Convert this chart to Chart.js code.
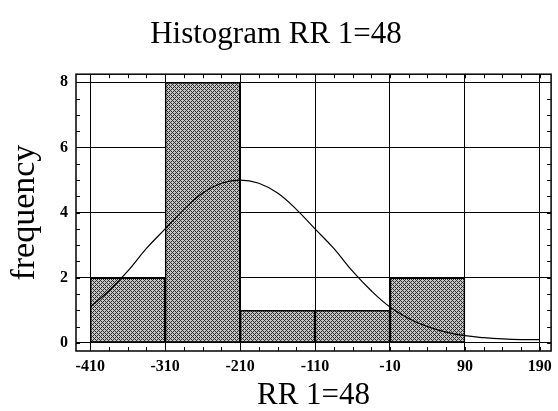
<!DOCTYPE html>
<html>
<head>
<meta charset="utf-8">
<script src="https://cdn.jsdelivr.net/npm/chart.js@4"></script>
<style>
  html, body { margin: 0; padding: 0; background: #fff; }
  #wrap { width: 558px; height: 411px; }
</style>
</head>
<body>
<div id="wrap"><canvas id="chart" width="558" height="411"></canvas></div>
<script>
// histogram bins (lower edge, 100 wide) and counts
const binStarts = [-410, -310, -210, -110, -10];
const binWidth = 100;
const counts = [2, 8, 1, 1, 2];

// fitted normal curve
const curveX = [-410, -385, -360, -335, -310, -285, -260, -235, -210, -185, -160, -135, -110,
                -85, -60, -35, -10, 15, 40, 65, 90, 115, 140, 165, 190];
const curveY = [1.1, 1.6, 2.2, 2.9, 3.5, 4.1, 4.6, 4.9, 5.0, 4.9, 4.6, 4.1, 3.5,
                2.9, 2.2, 1.6, 1.1, 0.75, 0.5, 0.33, 0.22, 0.16, 0.12, 0.1, 0.1];

const xTicks = [-410, -310, -210, -110, -10, 90, 190];
const yTicks = [0, 2, 4, 6, 8];

const serif = "'Liberation Serif', 'DejaVu Serif', serif";

// cross-hatched stipple like the printed histogram
function makePattern() {
    const c = document.createElement('canvas');
    c.width = 4; c.height = 4;
    const g = c.getContext('2d');
    g.fillStyle = '#c4c4c4';
    g.fillRect(0, 0, 4, 4);
    g.fillStyle = '#2e2e2e';
    for (let i = 0; i < 4; i++) {
        g.fillRect(i, i, 1, 1);
        g.fillRect(i, (4 - i) % 4, 1, 1);
    }
    return g.createPattern(c, 'repeat');
}

// box round the plot plus small inward ticks
const framePlugin = {
    id: 'frame',
    afterDraw(chart) {
        const { ctx, chartArea: a, scales: { x, y } } = chart;
        ctx.save();
        ctx.strokeStyle = '#000';
        ctx.lineWidth = 1;
        for (let v = -410; v <= 200; v += 25) {
            const px = Math.round(x.getPixelForValue(v)) + 0.5;
            ctx.beginPath();
            ctx.moveTo(px, a.top); ctx.lineTo(px, a.top + 4);
            ctx.moveTo(px, a.bottom); ctx.lineTo(px, a.bottom - 4);
            ctx.stroke();
        }
        for (let v = 0; v <= 8; v += 0.5) {
            const py = Math.round(y.getPixelForValue(v)) + 0.5;
            ctx.beginPath();
            ctx.moveTo(a.left, py); ctx.lineTo(a.left + 4, py);
            ctx.moveTo(a.right, py); ctx.lineTo(a.right - 4, py);
            ctx.stroke();
        }
        ctx.lineWidth = 1.5;
        ctx.strokeRect(a.left, a.top, a.right - a.left, a.bottom - a.top);
        ctx.restore();
    }
};

new Chart(document.getElementById('chart'), {
    type: 'bar',
    data: {
        datasets: [
            {
                type: 'line',
                data: curveX.map((v, i) => ({ x: v, y: curveY[i] })),
                borderColor: '#000',
                borderWidth: 1.2,
                pointRadius: 0,
                tension: 0.4,
                fill: false,
                order: 0
            },
            {
                type: 'bar',
                data: binStarts.map((v, i) => ({ x: v + binWidth / 2, y: counts[i] })),
                backgroundColor: makePattern(),
                borderColor: '#000',
                borderWidth: 1.5,
                borderSkipped: false,
                barPercentage: 1,
                categoryPercentage: 1,
                order: 1
            }
        ]
    },
    options: {
        responsive: false,
        animation: false,
        layout: { padding: { left: 0, right: 6, top: 0, bottom: 0 } },
        plugins: {
            legend: { display: false },
            tooltip: { enabled: false },
            title: {
                display: true,
                text: 'Histogram RR 1=48',
                color: '#000',
                font: { family: serif, size: 31, weight: 'normal', lineHeight: 1.2 },
                padding: { top: 16, bottom: 21 }
            }
        },
        scales: {
            x: {
                type: 'linear',
                offset: false,
                min: -429,
                max: 205,
                afterBuildTicks: s => { s.ticks = xTicks.map(v => ({ value: v })); },
                afterFit: s => { s.height = 60; },
                ticks: {
                    color: '#000',
                    padding: 6,
                    maxRotation: 0,
                    font: { family: serif, size: 16, weight: 'bold' }
                },
                grid: { color: '#000', lineWidth: 1, drawTicks: false, offset: false },
                border: { display: false },
                title: {
                    display: true,
                    text: 'RR 1=48',
                    color: '#000',
                    font: { family: serif, size: 31, lineHeight: 1 },
                    padding: { top: 0, bottom: 0 }
                }
            },
            y: {
                min: -0.25,
                max: 8.25,
                afterBuildTicks: s => { s.ticks = yTicks.map(v => ({ value: v })); },
                afterFit: s => { s.width = 76; },
                ticks: {
                    color: '#000',
                    padding: 8,
                    font: { family: serif, size: 16, weight: 'bold' }
                },
                grid: { color: '#000', lineWidth: 1, drawTicks: false },
                border: { display: false },
                title: {
                    display: true,
                    text: 'frequency',
                    color: '#000',
                    font: { family: serif, size: 34, lineHeight: 1 },
                    padding: { top: 8, bottom: 0 }
                }
            }
        }
    },
    plugins: [framePlugin]
});
</script>
</body>
</html>
